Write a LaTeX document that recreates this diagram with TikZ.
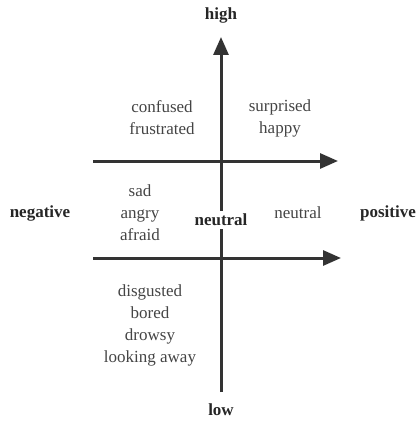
\documentclass[tikz,border=0pt]{standalone}
\usepackage{fontspec}
\setmainfont{Liberation Serif}
\usetikzlibrary{arrows.meta,positioning}
\definecolor{axisgray}{HTML}{333333}
\definecolor{textgray}{HTML}{444444}

\begin{document}
\begin{tikzpicture}[x=1pt,y=-1pt]
\tikzstyle{every node}+=[inner sep=0pt, font=\fontsize{17}{22}\selectfont]
\tikzstyle{axis}=[draw=axisgray, line width=3pt, -{Triangle[length=18pt,width=15pt]}]
\tikzstyle{plainaxis}=[draw=axisgray, line width=3pt]
\tikzstyle{pole}=[font=\fontsize{17}{22}\selectfont\bfseries, text=black!85]
\tikzstyle{state}=[align=center, text=textgray]
\useasboundingbox (0,0) rectangle (416,425);
% poles
\node [pole] (high) at (221,15) {high};
\node [pole] (low) at (221,410) {low};
\node [pole] (neg) at (40,213) {negative};
\node [pole] (pos) at (388,213) {positive};
\node [pole, inner sep=3pt] (mid) at (221,220) {neutral};
% emotion groups
\node [state] (conf) at (162,118) {confused\\frustrated};
\node [state] (surp) at (280,118) {surprised\\happy};
\node [state] (sad) at (140,213) {sad\\angry\\afraid};
\node [state] (neut) at (298,213) {neutral};
\node [state] (disg) at (150,325) {disgusted\\bored\\drowsy\\looking away};
% axes
\coordinate (vtop) at (221,37);
\coordinate (vbot) at (221,392);
\coordinate (hl1) at (93,161);
\coordinate (hr1) at (338,161);
\coordinate (hl2) at (93,258);
\coordinate (hr2) at (341,258);
\draw [axis] (mid.north) -- (vtop);
\draw [plainaxis] (vbot) -- (mid.south);
\draw [axis] (hl1) -- (hr1);
\draw [axis] (hl2) -- (hr2);
\end{tikzpicture}
\end{document}
